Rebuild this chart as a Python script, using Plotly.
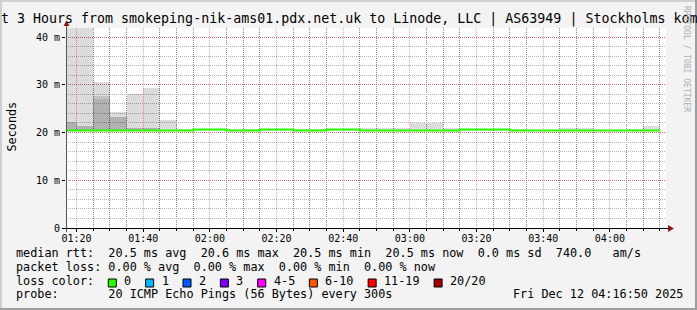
import plotly.graph_objects as go
import pandas as pd

# ---------------- data ----------------
bin_end = pd.date_range("2025-12-12 01:20:00", "2025-12-12 04:15:00", freq="5min")

median_ms = [20.45, 20.45, 20.45, 20.45, 20.45, 20.45, 20.45, 20.45,
             20.65, 20.65, 20.45, 20.45, 20.65, 20.65, 20.45, 20.45,
             20.65, 20.65, 20.45, 20.45, 20.45, 20.45, 20.45, 20.45,
             20.65, 20.65, 20.65, 20.45, 20.45, 20.45, 20.45, 20.45,
             20.45, 20.45, 20.45, 20.45]

smoke_min_ms = [20.3, 20.3, 20.3, 20.3, 20.3, 20.3, 20.3, 20.3,
                20.3, 20.3, 20.3, 20.3, 20.3, 20.3, 20.3, 20.3,
                20.3, 20.3, 20.3, 20.3, 20.3, 20.3, 20.3, 20.3,
                20.3, 20.3, 20.3, 20.3, 20.3, 20.3, 20.3, 20.3,
                20.3, 20.3, 20.3, 20.3]

smoke_max_ms = [48.0, 46.0, 30.5, 24.3, 28.1, 29.4, 22.7, 20.65,
                20.7, 20.7, 20.8, 20.8, 20.7, 20.7, 20.75, 20.75,
                20.7, 20.7, 20.9, 20.9, 20.9, 21.9, 21.9, 20.9,
                20.7, 20.7, 20.7, 20.8, 20.6, 20.6, 20.85, 20.85,
                20.6, 20.6, 20.8, 21.3]

smoke_mid_ms = [22.2, 21.3, 27.7, 23.2, 20.85, 20.85, None, None,
                None, None, None, None, None, None, None, None,
                None, None, None, None, None, None, None, None,
                None, None, None, None, None, None, None, None,
                None, None, None, None]

smoke_dense_ms = [22.2, 21.3, 27.1, 23.2, 20.85, 20.85, None, None,
                  None, None, None, None, None, None, None, None,
                  None, None, None, None, None, None, None, None,
                  None, None, None, None, None, None, None, None,
                  None, None, None, None]

y_tick_vals = [0, 10, 20, 30, 40]
y_tick_text = ["0", "10 m", "20 m", "30 m", "40 m"]

loss_labels = ["0", "1", "2", "3", "4-5", "6-10", "11-19", "20/20"]
loss_colors = ["#26ff00", "#00b8ff", "#0059ff", "#7e00ff",
               "#ff00ff", "#ff5500", "#ff0000", "#a10000"]

title_text = "t 3 Hours from smokeping-nik-ams01.pdx.net.uk to Linode, LLC | AS63949 | Stockholms kom"
row_median = "median rtt:  20.5 ms avg  20.6 ms max  20.5 ms min  20.5 ms now  0.0 ms sd  740.0   am/s"
row_loss = "packet loss: 0.00 % avg  0.00 % max  0.00 % min  0.00 % now"
row_color = "loss color:"
row_probe = "probe:       20 ICMP Echo Pings (56 Bytes) every 300s"
date_text = "Fri Dec 12 04:16:50 2025"
watermark = "RRDTOOL / TOBI OETIKER"

# ---------------- geometry ----------------
W, H = 697, 310
L, R, T, B = 66, 31, 28, 82
PW, PH = W - L - R, H - T - B
BASE_Y = H - B


def px(xp):
    return (xp - L) / PW


def py(yp):
    return (BASE_Y - yp) / PH


MONO = "DejaVu Sans Mono"

fig = go.Figure()

centers = bin_end - pd.Timedelta(minutes=2.5)


def smoke_trace(top, color):
    h = [None if t is None else t - lo for t, lo in zip(top, smoke_min_ms)]
    return go.Bar(x=centers, y=h, base=smoke_min_ms, width=300000,
                  marker=dict(color=color, line=dict(width=0)),
                  hoverinfo="skip")


fig.add_trace(smoke_trace(smoke_max_ms, "rgba(0,0,0,0.137)"))
fig.add_trace(smoke_trace(smoke_mid_ms, "rgba(0,0,0,0.11)"))
fig.add_trace(smoke_trace(smoke_dense_ms, "rgba(0,0,0,0.09)"))

bin_start = bin_end - pd.Timedelta(minutes=5)
line_x = list(bin_start) + [bin_end[-1]]
line_y = list(median_ms) + [median_ms[-1]]
fig.add_trace(go.Scatter(x=line_x, y=line_y, mode="lines", line_shape="hv",
                         line=dict(color=loss_colors[0], width=2),
                         hoverinfo="skip"))

shapes = []
# frame
shapes.append(dict(type="rect", xref="paper", yref="paper", x0=px(0), x1=px(W), y0=py(0), y1=py(2),
                   fillcolor="#cfcfcf", line=dict(width=0), layer="below"))
shapes.append(dict(type="rect", xref="paper", yref="paper", x0=px(0), x1=px(2), y0=py(0), y1=py(H),
                   fillcolor="#cfcfcf", line=dict(width=0), layer="below"))
shapes.append(dict(type="rect", xref="paper", yref="paper", x0=px(0), x1=px(W), y0=py(H - 2), y1=py(H),
                   fillcolor="#9e9e9e", line=dict(width=0), layer="below"))
shapes.append(dict(type="rect", xref="paper", yref="paper", x0=px(W - 2), x1=px(W), y0=py(0), y1=py(H),
                   fillcolor="#9e9e9e", line=dict(width=0), layer="below"))
# axes
shapes.append(dict(type="line", xref="paper", yref="paper", x0=px(62), x1=px(669), y0=py(228.5), y1=py(228.5),
                   line=dict(color="#000000", width=1)))
shapes.append(dict(type="line", xref="paper", yref="paper", x0=px(66.5), x1=px(66.5), y0=py(232), y1=py(25),
                   line=dict(color="#555555", width=1)))
shapes.append(dict(type="path", xref="paper", yref="paper",
                   path=f"M {px(668)},{py(225)} L {px(674)},{py(228.5)} L {px(668)},{py(232)} Z",
                   fillcolor="#8b1a1a", line=dict(width=0)))
shapes.append(dict(type="path", xref="paper", yref="paper",
                   path=f"M {px(63.5)},{py(26)} L {px(66.5)},{py(20.5)} L {px(69.5)},{py(26)} Z",
                   fillcolor="#8b1a1a", line=dict(width=0)))

annotations = []


def ann(text, x, y, size, color="#000000", xanchor="left", yanchor="middle", angle=0):
    annotations.append(dict(text=text.replace(" ", "\u00a0"), x=px(x), y=py(y), xref="paper", yref="paper",
                            showarrow=False, xanchor=xanchor, yanchor=yanchor, borderpad=0,
                            textangle=angle, font=dict(family=MONO, size=size, color=color)))


ann(title_text, -0.3, 19.4, 13.3)
ann(row_median, 15.3, 253.2, 11.8)
ann(row_loss, 15.3, 266.9, 11.8)
ann(row_color, 15.3, 280.9, 11.8)
ann(row_probe, 15.3, 294.4, 11.8)
ann(date_text, 512.3, 294.4, 11.8)
ann("Seconds", 11.5, 127, 11.8, xanchor="center", angle=-90)
ann(watermark, 687, 59, 8, color="#b0b0b0", xanchor="center", angle=90)

# loss colour boxes
bx = 108.3
for lab, col in zip(loss_labels, loss_colors):
    shapes.append(dict(type="rect", xref="paper", yref="paper", x0=px(bx), x1=px(bx + 8), y0=py(287), y1=py(279),
                       fillcolor=col, line=dict(color="#000000", width=1)))
    ann(lab, bx + 15, 280.9, 11.8)
    bx += 30.2 + 7.15 * len(lab)

fig.update_layout(
    width=W, height=H,
    margin=dict(l=L, r=R, t=T, b=B, pad=0),
    paper_bgcolor="#f3f3f3", plot_bgcolor="#ffffff",
    barmode="overlay", bargap=0, showlegend=False,
    font=dict(family=MONO, size=10, color="#000000"),
    shapes=shapes, annotations=annotations,
    xaxis=dict(type="date", range=["2025-12-12 01:16:50", "2025-12-12 04:16:50"],
               tick0="2025-12-12 01:20:00", dtick=1200000, tickformat="%H:%M",
               showgrid=True, gridcolor="rgba(255,0,0,0.38)", griddash="1px,1px", gridwidth=1,
               ticks="outside", ticklen=3, tickcolor="#000000", zeroline=False, showline=False,
               ticklabelstandoff=-2,
               tickfont=dict(family=MONO, size=10, color="#000000"), fixedrange=True,
               minor=dict(dtick=300000, tick0="2025-12-12 01:20:00", showgrid=True,
                          gridcolor="#8a8a8a", griddash="1px,1px", gridwidth=1,
                          ticks="outside", ticklen=2, tickcolor="#000000")),
    yaxis=dict(range=[0, 41.9], tickvals=y_tick_vals, ticktext=y_tick_text,
               showgrid=True, gridcolor="rgba(255,0,0,0.38)", griddash="1px,1px", gridwidth=1,
               ticks="outside", ticklen=3, tickcolor="#000000", zeroline=False, showline=False,
               tickfont=dict(family=MONO, size=10, color="#000000"), fixedrange=True,
               minor=dict(dtick=2, tick0=0, showgrid=True, gridcolor="#b4b4b4",
                          griddash="1px,1px", gridwidth=1)),
)

fig.write_html("out.html", config={"displayModeBar": False})
